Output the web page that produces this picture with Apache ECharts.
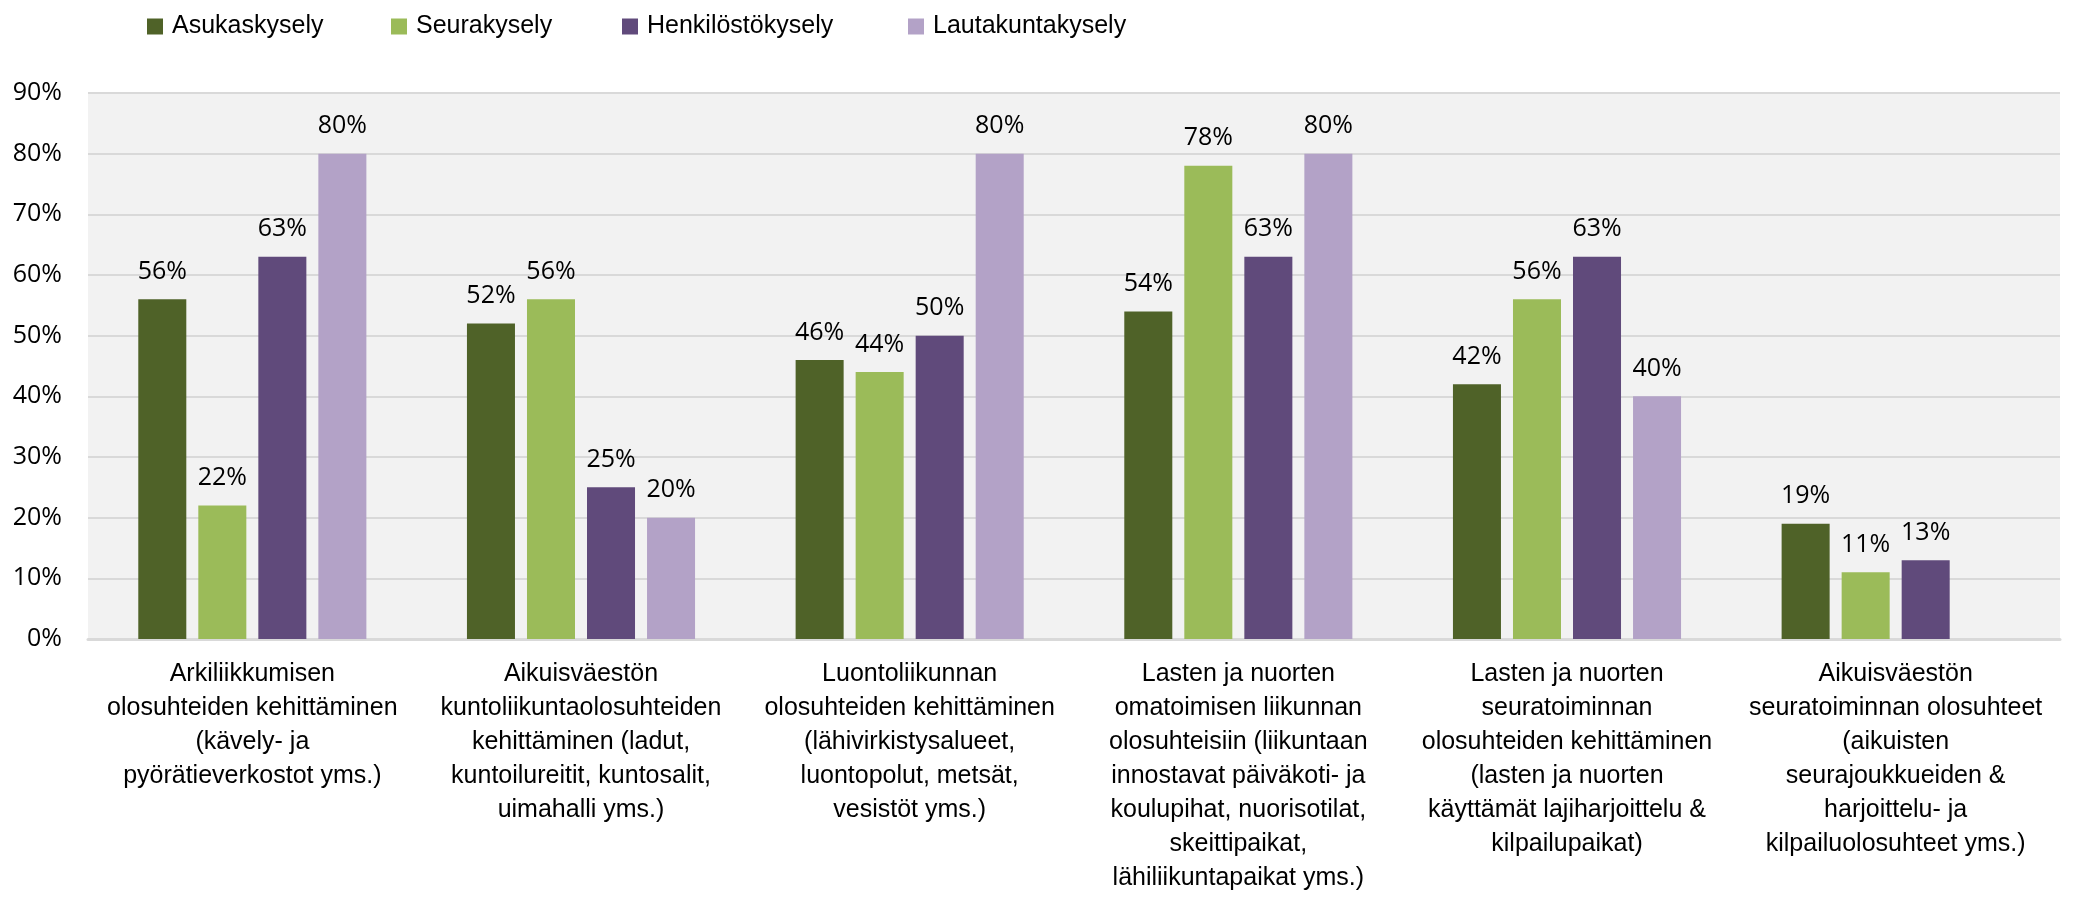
<!DOCTYPE html>
<html>
<head>
<meta charset="utf-8">
<script src="https://cdn.jsdelivr.net/npm/echarts@6/dist/echarts.min.js"></script>
<style>
  html, body { margin: 0; padding: 0; background: #fff; }
  #chart-main { width: 2080px; height: 902px; }
</style>
</head>
<body>
<div id="chart-main"></div>
<script>
  // kategoriat (rivinvaihdot kuten kuvassa)
  const categories = [
    'Arkiliikkumisen\nolosuhteiden kehittäminen\n(kävely- ja\npyörätieverkostot yms.)',
    'Aikuisväestön\nkuntoliikuntaolosuhteiden\nkehittäminen (ladut,\nkuntoilureitit, kuntosalit,\nuimahalli yms.)',
    'Luontoliikunnan\nolosuhteiden kehittäminen\n(lähivirkistysalueet,\nluontopolut, metsät,\nvesistöt yms.)',
    'Lasten ja nuorten\nomatoimisen liikunnan\nolosuhteisiin (liikuntaan\ninnostavat päiväkoti- ja\nkoulupihat, nuorisotilat,\nskeittipaikat,\nlähiliikuntapaikat yms.)',
    'Lasten ja nuorten\nseuratoiminnan\nolosuhteiden kehittäminen\n(lasten ja nuorten\nkäyttämät lajiharjoittelu &\nkilpailupaikat)',
    'Aikuisväestön\nseuratoiminnan olosuhteet\n(aikuisten\nseurajoukkueiden &\nharjoittelu- ja\nkilpailuolosuhteet yms.)'
  ];

  const seriesNames = ['Asukaskysely', 'Seurakysely', 'Henkilöstökysely', 'Lautakuntakysely'];

  const asukas = [56, 52, 46, 54, 42, 19];
  const seura = [22, 56, 44, 78, 56, 11];
  const henkilosto = [63, 25, 50, 63, 63, 13];
  const lautakunta = [80, 20, 80, 80, 40, null];

  const yTicks = [0, 10, 20, 30, 40, 50, 60, 70, 80, 90];

  const colors = ['#4f6228', '#9bbb59', '#604a7b', '#b3a2c7'];
  const legendLeft = [142, 386, 617, 903];

  const numFont = '"Open Sans", "Liberation Sans", sans-serif';
  const textFont = '"Liberation Sans Narrow", "Liberation Sans", sans-serif';

  const chart = echarts.init(document.getElementById('chart-main'));

  const values = [asukas, seura, henkilosto, lautakunta];

  const option = {
    animation: false,
    legend: seriesNames.map((name, i) => ({
      data: [name],
      left: legendLeft[i],
      top: 9,
      itemWidth: 16,
      itemHeight: 16,
      icon: 'rect',
      textStyle: { fontFamily: textFont, fontSize: 25, color: '#000', padding: [0, 0, 0, 4] }
    })),
    grid: {
      left: 88,
      right: 20,
      top: 93,
      bottom: 263,
      show: true,
      backgroundColor: '#f2f2f2',
      borderWidth: 0
    },
    xAxis: {
      type: 'category',
      data: categories,
      axisTick: { show: false },
      axisLine: { lineStyle: { color: '#d9d9d9', width: 3 } },
      axisLabel: {
        interval: 0,
        margin: 18,
        fontFamily: textFont,
        fontSize: 25,
        lineHeight: 34,
        color: '#000',
        align: 'center'
      }
    },
    yAxis: {
      type: 'value',
      min: yTicks[0],
      max: yTicks[yTicks.length - 1],
      interval: 10,
      axisLine: { show: false },
      axisTick: { show: false },
      splitLine: { lineStyle: { color: '#d9d9d9', width: 2 } },
      axisLabel: {
        formatter: '{value}%',
        margin: 26,
        fontFamily: numFont,
        fontSize: 25,
        color: '#000'
      }
    },
    series: seriesNames.map((name, i) => ({
      name: name,
      type: 'bar',
      data: values[i],
      barGap: '25%',
      barCategoryGap: '30.6%',
      itemStyle: { color: colors[i] },
      label: {
        show: true,
        position: 'top',
        distance: 15,
        formatter: '{c}%',
        fontFamily: numFont,
        fontSize: 25,
        color: '#000'
      }
    }))
  };

  chart.setOption(option);
</script>
</body>
</html>
